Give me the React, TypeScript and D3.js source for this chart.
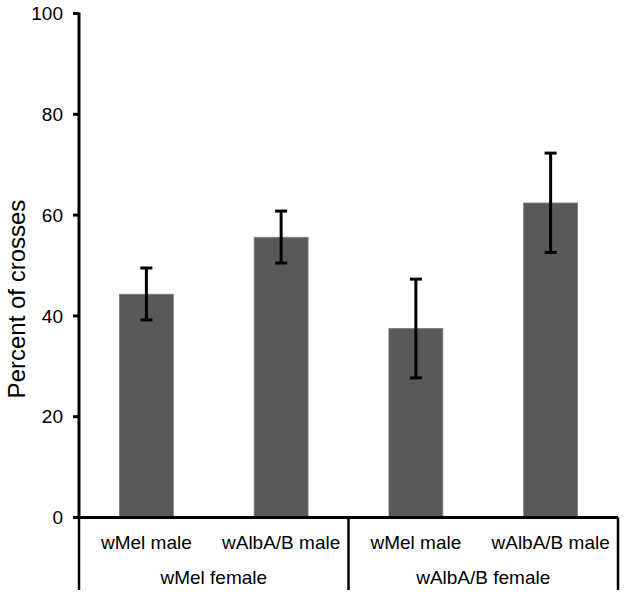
import React from "react";
import * as d3 from "d3";

const maleLabels = ["wMel male", "wAlbA/B male", "wMel male", "wAlbA/B male"];
const femaleLabels = ["wMel female", "wAlbA/B female"];
const values = [44.3, 55.6, 37.5, 62.4];
const errLow = [39.2, 50.5, 27.7, 52.6];
const errHigh = [49.5, 60.8, 47.3, 72.3];
const yTicks = [0, 20, 40, 60, 80, 100];

export default function App() {
  const W = 625, H = 595;
  const x0 = 79, x1 = 618, yTop = 13.5, yBot = 517.5;
  const keys = values.map((_, i) => String(i));
  const x = d3.scaleBand<string>().domain(keys).range([x0, x1]).paddingInner(0.6).paddingOuter(0.3);
  const xg = d3.scaleBand<string>().domain(femaleLabels).range([x0, x1]);
  const y = d3.scaleLinear().domain([0, 100]).range([yBot, yTop]);
  const font = "Liberation Sans, Arial, sans-serif";
  return (
    <svg width={W} height={H} style={{ position: "absolute", left: 0, top: 0, background: "#fff" }}>
      {values.map((v, i) => (
        <rect key={i} x={x(keys[i])!} y={y(v)} width={x.bandwidth()} height={y(0) - y(v)}
          fill="#595959" stroke="#7a7a7a" strokeWidth={0.8} />
      ))}
      {values.map((v, i) => {
        const cx = x(keys[i])! + x.bandwidth() / 2;
        return (
          <g key={"e" + i} stroke="#000" strokeWidth={3}>
            <line x1={cx} x2={cx} y1={y(errLow[i])} y2={y(errHigh[i])} />
            <line x1={cx - 6} x2={cx + 6} y1={y(errLow[i])} y2={y(errLow[i])} />
            <line x1={cx - 6} x2={cx + 6} y1={y(errHigh[i])} y2={y(errHigh[i])} />
          </g>
        );
      })}
      {/* y axis */}
      <line x1={x0} x2={x0} y1={yTop - 1} y2={yBot} stroke="#000" strokeWidth={3} />
      {yTicks.map((t) => (
        <g key={t}>
          <line x1={x0 - 6} x2={x0} y1={y(t)} y2={y(t)} stroke="#000" strokeWidth={3} />
          <text x={x0 - 16} y={y(t)} dy="0.35em" textAnchor="end" fontSize={19} fontFamily={font} fill="#000">{t}</text>
        </g>
      ))}
      <text transform={`translate(25,299) rotate(-90)`} textAnchor="middle" fontSize={24} fontFamily={font} fill="#000">Percent of crosses</text>
      {/* x axis */}
      <line x1={x0 - 6} x2={x1} y1={yBot} y2={yBot} stroke="#000" strokeWidth={3} />
      {[x0, xg(femaleLabels[1])!, x1].map((lx, i) => (
        <line key={"v" + i} x1={lx} x2={lx} y1={yBot} y2={590} stroke="#000" strokeWidth={2.5} />
      ))}
      {maleLabels.map((l, i) => (
        <text key={"m" + i} x={x(keys[i])! + x.bandwidth() / 2} y={549} textAnchor="middle" fontSize={19} fontFamily={font} fill="#000">{l}</text>
      ))}
      {femaleLabels.map((l) => (
        <text key={l} x={xg(l)! + xg.bandwidth() / 2} y={584} textAnchor="middle" fontSize={19} fontFamily={font} fill="#000">{l}</text>
      ))}
    </svg>
  );
}
